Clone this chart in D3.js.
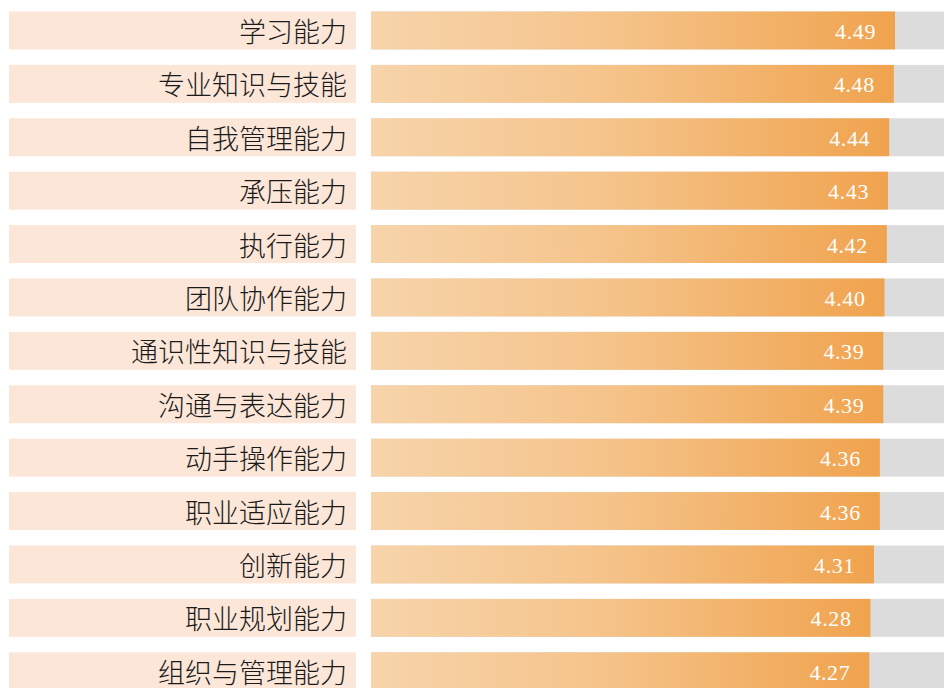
<!DOCTYPE html>
<html><head><meta charset="utf-8">
<script src="https://cdn.jsdelivr.net/npm/d3@7"></script>
<style>html,body{margin:0;padding:0;background:#fff;overflow:hidden;}</style>
</head><body>
<svg id="chart" width="944" height="688"></svg>
<script>
const categories = ["学习能力","专业知识与技能","自我管理能力","承压能力","执行能力","团队协作能力","通识性知识与技能","沟通与表达能力","动手操作能力","职业适应能力","创新能力","职业规划能力","组织与管理能力"];
const values = [4.49,4.48,4.44,4.43,4.42,4.40,4.39,4.39,4.36,4.36,4.31,4.28,4.27];
const maxValue = 5;

const svg = d3.select("#chart");
const defs = svg.append("defs");
const grad = defs.append("linearGradient").attr("id","barGrad")
  .attr("x1","0").attr("y1","0").attr("x2","1").attr("y2","0");
grad.append("stop").attr("offset","0").attr("stop-color","#f7d4ab");
grad.append("stop").attr("offset","0.45").attr("stop-color","#f5c48b");
grad.append("stop").attr("offset","1").attr("stop-color","#f0a34e");

const step = 53.4;
const pad = 0.29;
const y0 = 11.5;
const y = d3.scaleBand().domain(categories)
  .range([y0, y0 + step*(categories.length - pad)])
  .paddingInner(pad).paddingOuter(0);
const x = d3.scaleLinear().domain([0, maxValue]).range([371, 371 + 524/4.49*maxValue]);

const rows = svg.selectAll("g.row").data(categories).enter().append("g").attr("class","row");

rows.append("rect").attr("x",9).attr("width",347)
  .attr("y", d=>y(d)).attr("height", y.bandwidth()).attr("fill","#fce6d8");

rows.append("text").attr("x",347).attr("y", d=>y(d)+y.bandwidth()/2)
  .attr("text-anchor","end").attr("dominant-baseline","central")
  .attr("font-family","'Noto Sans CJK SC'").attr("font-weight",300)
  .attr("font-size",27).attr("fill","#1a1a1a").text(d=>d);

rows.append("rect").attr("x", x(0)).attr("width", x(maxValue)-x(0))
  .attr("y", d=>y(d)).attr("height", y.bandwidth()).attr("fill","#dcdcdc");

rows.append("rect").attr("x", x(0)).attr("width", (d,i)=>x(values[i])-x(0))
  .attr("y", d=>y(d)).attr("height", y.bandwidth()).attr("fill","url(#barGrad)");

rows.append("text").attr("x",(d,i)=>x(values[i])-19).attr("y", d=>y(d)+y.bandwidth()/2+1)
  .attr("text-anchor","end").attr("dominant-baseline","central")
  .attr("font-family","'Liberation Serif','Times New Roman',serif")
  .attr("font-size",22).attr("letter-spacing","0.6px").attr("fill","#ffffff")
  .text((d,i)=>values[i].toFixed(2));
</script>
</body></html>
